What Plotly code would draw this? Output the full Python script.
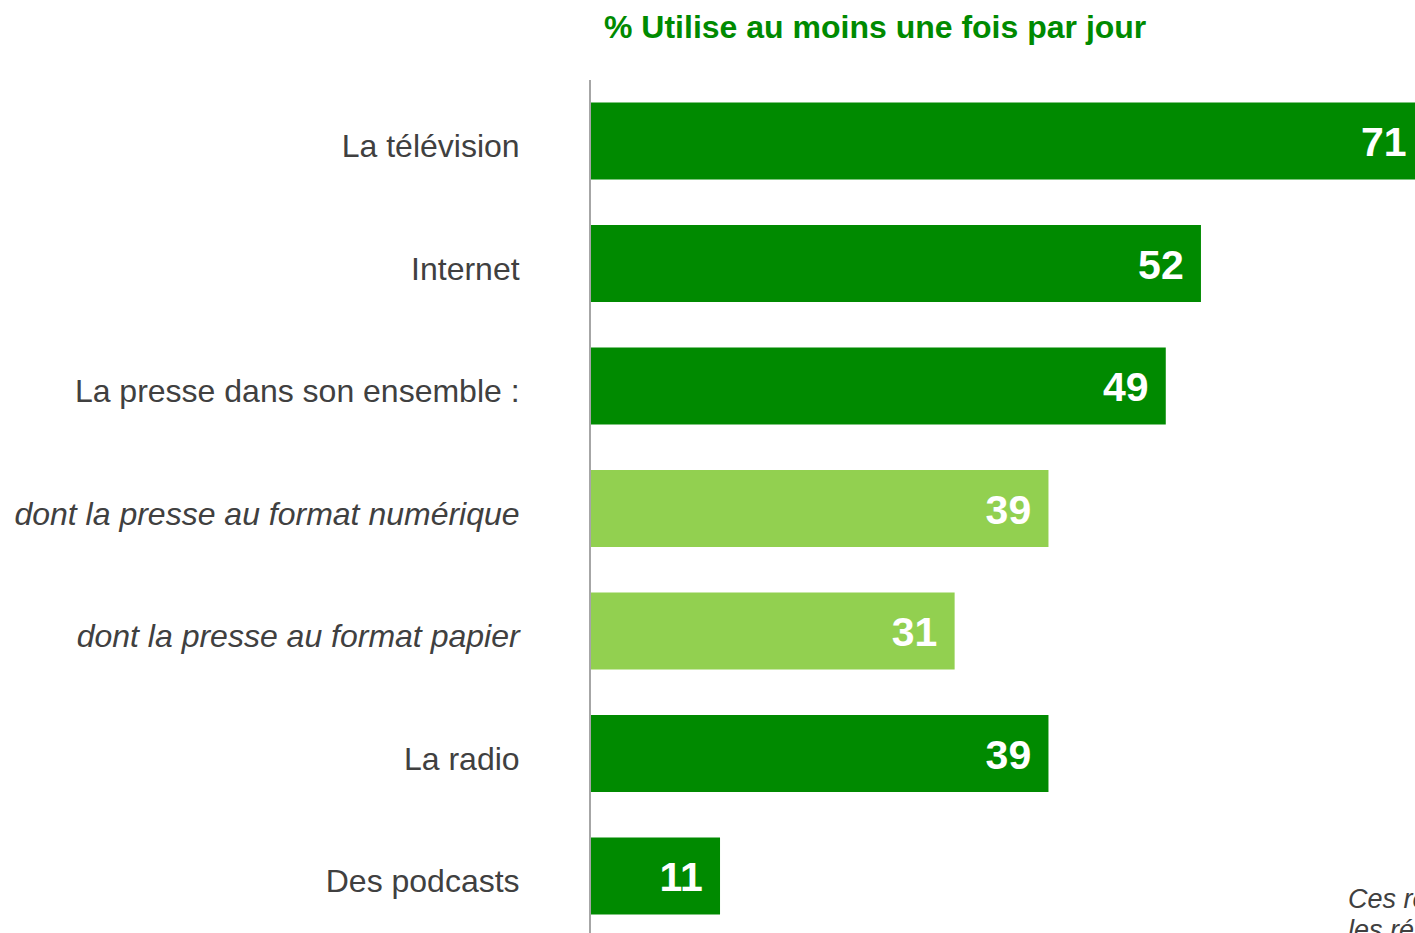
import plotly.graph_objects as go

categories = [
    "La télévision",
    "Internet",
    "La presse dans son ensemble :",
    "dont la presse au format numérique",
    "dont la presse au format papier",
    "La radio",
    "Des podcasts",
]
values = [71, 52, 49, 39, 31, 39, 11]
is_sub = [False, False, False, True, True, False, False]
title_text = "% Utilise au moins une fois par jour"
note_lines = ["Ces résultats portent sur", "les répondants interrogés"]

DARK = "#008A00"
LIGHT = "#92D050"
GREY_TXT = "#404040"

pos = list(range(len(categories)))
colors = [LIGHT if s else DARK for s in is_sub]
ticktext = [f"<i>{c}</i>" if s else c for c, s in zip(categories, is_sub)]

# The figure is wider than the 1415px window; the overflow is cut off by the page,
# as the original chart is cropped at its right edge.
FIG_W, FIG_H = 1440, 933
LEFT, TOP = 591, 80
PX_PER_UNIT = 11.73
plot_w = FIG_W - LEFT
plot_h = FIG_H - TOP

Y_RANGE = [6.465, -0.498]
TXT_SHIFT = 0.04  # small downward shift (axis units) for text layers

fig = go.Figure()
fig.add_trace(go.Bar(
    x=values, y=pos, orientation="h",
    marker=dict(color=colors, line=dict(width=0)),
    width=0.63, hoverinfo="skip",
))
fig.add_trace(go.Scatter(
    x=values, y=pos, mode="markers+text", yaxis="y2",
    text=[str(v) for v in values], textposition="middle left",
    textfont=dict(family="Liberation Sans", size=41, color="white", weight="bold"),
    marker=dict(size=26, color="rgba(0,0,0,0)"),
    cliponaxis=False, hoverinfo="skip", showlegend=False,
))

fig.update_layout(
    width=FIG_W, height=FIG_H,
    margin=dict(l=LEFT, r=0, t=TOP, b=0),
    plot_bgcolor="white", paper_bgcolor="white",
    showlegend=False,
    font=dict(family="Liberation Sans", color=GREY_TXT),
    title=dict(
        text=f"<b>{title_text}</b>",
        x=604 / FIG_W, xanchor="left", xref="container",
        y=1 - 27 / FIG_H, yanchor="middle", yref="container",
        font=dict(family="Liberation Sans", size=32, color=DARK),
    ),
    xaxis=dict(range=[0, plot_w / PX_PER_UNIT], visible=False, fixedrange=True),
    yaxis=dict(
        range=Y_RANGE, showticklabels=False, ticks="",
        showline=True, linecolor="#A6A6A6", linewidth=2,
        showgrid=False, zeroline=False, fixedrange=True,
    ),
    yaxis2=dict(
        range=[Y_RANGE[0] - TXT_SHIFT, Y_RANGE[1] - TXT_SHIFT],
        overlaying="y", anchor="x", side="left",
        tickvals=pos, ticktext=ticktext,
        tickfont=dict(family="Liberation Sans", size=32, color=GREY_TXT),
        ticks="outside", ticklen=64, tickcolor="rgba(0,0,0,0)",
        showline=False, showgrid=False, zeroline=False, fixedrange=True,
    ),
)

note_x = (1346 - LEFT) / plot_w
fig.add_annotation(
    text=f"<i>{note_lines[0]}</i>", xref="paper", yref="paper",
    x=note_x, y=(FIG_H - 899) / plot_h, xanchor="left", yanchor="middle",
    showarrow=False, font=dict(family="Liberation Sans", size=27, color=GREY_TXT),
)
fig.add_annotation(
    text=f"<i>{note_lines[1]}</i>", xref="paper", yref="paper",
    x=note_x, y=(FIG_H - 930) / plot_h, xanchor="left", yanchor="middle",
    showarrow=False, font=dict(family="Liberation Sans", size=27, color=GREY_TXT),
)

fig.write_html(
    "out.html",
    config={"displayModeBar": False},
    post_script=(
        "document.documentElement.style.margin='0';"
        "document.body.style.margin='0';"
        "document.documentElement.style.overflow='hidden';"
        "document.body.style.overflow='hidden';"
    ),
)
